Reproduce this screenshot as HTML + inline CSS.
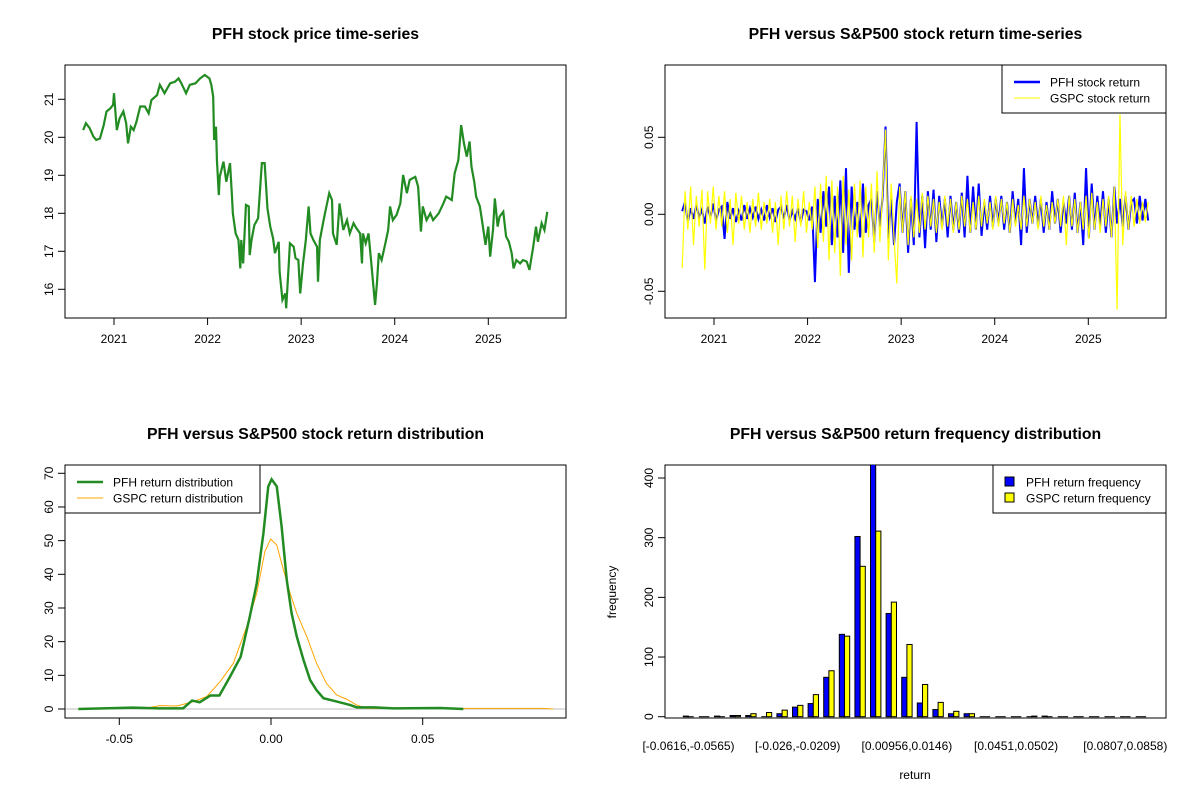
<!DOCTYPE html>
<html><head><meta charset="utf-8"><style>
body{margin:0;background:#fff;}
svg{display:block;font-family:"Liberation Sans",Arial,sans-serif;}
</style></head><body>
<svg id="c" width="1200" height="800" viewBox="0 0 1200 800">
<rect width="1200" height="800" fill="#fff"/>
</svg>
<script>
// ---- Panel 1: price series ----
const priceYears=[2020.67,2020.70,2020.74,2020.78,2020.81,2020.85,2020.89,2020.92,2020.96,2020.99,2021.00,2021.03,2021.06,2021.10,2021.13,2021.15,2021.18,2021.21,2021.24,2021.28,2021.33,2021.37,2021.40,2021.46,2021.49,2021.54,2021.60,2021.65,2021.69,2021.72,2021.77,2021.81,2021.87,2021.92,2021.97,2022.02,2022.04,2022.06,2022.07,2022.09,2022.10,2022.12,2022.13,2022.17,2022.20,2022.24,2022.26,2022.27,2022.30,2022.33,2022.35,2022.36,2022.38,2022.41,2022.44,2022.45,2022.47,2022.50,2022.54,2022.58,2022.61,2022.64,2022.67,2022.70,2022.72,2022.76,2022.77,2022.80,2022.83,2022.84,2022.87,2022.88,2022.92,2022.94,2022.97,2022.99,2023.02,2023.05,2023.08,2023.10,2023.13,2023.17,2023.18,2023.20,2023.24,2023.27,2023.30,2023.33,2023.34,2023.38,2023.41,2023.45,2023.49,2023.52,2023.56,2023.59,2023.63,2023.65,2023.66,2023.69,2023.72,2023.75,2023.79,2023.81,2023.83,2023.86,2023.90,2023.93,2023.95,2023.98,2024.02,2024.06,2024.09,2024.13,2024.16,2024.22,2024.25,2024.28,2024.30,2024.34,2024.38,2024.41,2024.47,2024.52,2024.55,2024.61,2024.64,2024.68,2024.71,2024.74,2024.77,2024.80,2024.82,2024.85,2024.87,2024.91,2024.94,2024.97,2025.00,2025.02,2025.05,2025.07,2025.10,2025.12,2025.16,2025.19,2025.22,2025.25,2025.27,2025.30,2025.34,2025.37,2025.41,2025.44,2025.48,2025.51,2025.53,2025.57,2025.60,2025.63];
const priceValues=[20.19,20.37,20.24,20.02,19.93,19.97,20.32,20.68,20.76,20.85,21.16,20.19,20.50,20.68,20.37,19.84,20.28,20.19,20.41,20.81,20.81,20.63,20.98,21.11,21.38,21.16,21.42,21.46,21.55,21.42,21.16,21.38,21.42,21.55,21.64,21.55,21.38,21.07,19.93,20.28,19.40,18.48,18.96,19.36,18.83,19.32,18.48,18.00,17.47,17.30,16.55,17.30,16.68,18.22,18.18,16.90,17.30,17.69,17.87,19.32,19.32,18.13,17.65,17.34,16.95,17.25,16.46,15.72,15.89,15.50,16.77,17.21,17.12,16.82,16.77,15.89,16.68,17.30,18.18,17.47,17.30,17.12,16.20,17.30,17.82,18.18,18.53,18.35,17.47,17.17,18.26,17.56,17.82,17.47,17.74,17.61,17.47,16.68,17.47,17.21,17.47,16.68,15.59,16.16,16.95,16.77,17.21,17.56,18.18,17.82,17.96,18.26,19.01,18.53,18.88,18.96,18.70,17.52,18.18,17.82,18.00,17.82,18.00,18.26,18.44,18.35,19.05,19.40,20.32,19.84,19.49,19.89,19.23,18.83,18.44,18.18,17.69,17.17,17.65,16.86,17.56,18.39,17.65,17.91,18.04,17.39,17.25,16.95,16.55,16.77,16.68,16.77,16.73,16.51,17.12,17.65,17.25,17.74,17.56,18.04];
const yearTicks=[2021,2022,2023,2024,2025];
const priceTicks=[16,17,18,19,20,21];
// ---- Panel 2: returns ----
const retStart=2020.66, retEnd=2025.64;
const pfhReturns=[0.002,0.008,-0.005,0.004,-0.003,0.006,-0.002,0.003,-0.006,0.005,-0.002,0.007,-0.004,0.003,0.005,-0.016,0.008,-0.003,0.004,-0.005,0.002,-0.004,0.006,-0.003,0.004,-0.002,0.005,-0.003,0.003,-0.004,0.006,-0.002,0.004,-0.005,0.003,0.005,-0.003,0.006,-0.004,0.002,-0.003,0.004,-0.005,0.003,0.002,-0.004,0.005,
-0.044,0.010,-0.012,0.015,-0.008,0.018,-0.020,0.012,-0.015,0.022,-0.025,0.030,-0.038,0.018,-0.010,0.008,-0.015,0.020,-0.012,0.006,0.010,-0.018,0.015,-0.008,0.012,0.057,-0.016,0.010,-0.020,0.008,0.020,-0.012,0.015,-0.025,0.010,-0.020,0.060,-0.015,0.012,-0.022,0.015,-0.010,0.016,-0.018,0.012,-0.008,0.010,-0.015,0.012,-0.010,0.008,-0.012,0.014,
-0.015,0.025,-0.012,0.018,-0.010,0.020,-0.014,0.008,-0.010,0.012,-0.008,0.010,-0.006,0.012,-0.010,0.008,-0.012,0.015,-0.006,0.010,-0.020,0.030,-0.012,0.010,-0.006,0.012,-0.008,0.010,-0.012,0.008,-0.010,0.015,-0.006,0.010,-0.012,0.008,-0.006,0.012,-0.010,0.014,-0.012,0.008,-0.020,0.030,-0.015,0.020,-0.010,0.012,-0.008,0.015,-0.012,0.010,-0.015,0.018,-0.006,0.010,-0.008,0.012,-0.010,0.008,0.010,-0.006,0.012,-0.004,0.010,-0.004];
const gspcReturns=[-0.035,0.015,-0.010,0.018,-0.020,0.012,-0.008,0.016,-0.036,0.015,-0.006,0.018,-0.010,0.012,-0.008,0.015,-0.012,0.010,-0.020,0.014,-0.006,0.012,-0.010,0.008,-0.012,0.010,-0.008,0.014,-0.010,0.008,-0.006,0.010,-0.012,0.008,-0.020,0.012,-0.010,0.015,-0.008,0.012,-0.018,0.010,-0.008,0.015,-0.012,0.008,-0.010,
0.018,-0.022,0.020,-0.018,0.025,-0.030,0.022,-0.025,0.018,-0.040,0.025,-0.020,0.016,-0.030,0.020,-0.015,0.022,-0.028,0.018,-0.015,0.020,-0.025,0.028,-0.018,0.015,0.055,-0.030,0.020,-0.015,-0.045,0.018,-0.012,0.015,-0.020,0.012,-0.015,0.010,-0.012,0.014,-0.010,0.012,-0.008,0.010,-0.012,0.008,-0.010,0.012,-0.008,0.010,-0.012,0.008,-0.010,0.012,
-0.008,0.010,-0.012,0.008,-0.010,0.012,-0.008,0.010,-0.006,0.008,-0.010,0.012,-0.008,0.010,-0.006,0.008,-0.012,0.010,-0.008,0.006,-0.010,0.012,-0.008,0.010,-0.006,0.008,-0.010,0.012,-0.008,0.006,-0.010,0.008,-0.006,0.010,-0.008,0.012,-0.020,0.012,-0.008,0.010,-0.012,0.008,-0.010,0.012,-0.016,0.014,-0.010,0.008,-0.012,0.010,-0.008,0.012,-0.015,0.018,-0.062,0.065,-0.020,0.015,-0.010,0.012,-0.008,0.010,-0.006,0.008,-0.005,0.008];
const retTicks=[-0.05,0,0.05];
const retTickLabels=["-0.05","0.00","0.05"];
// ---- Panel 3: densities ----
const pfhDensX=[-0.0635,-0.0454,-0.037,-0.029,-0.026,-0.0235,-0.020,-0.017,-0.0135,-0.010,-0.007,-0.0047,-0.0025,-0.0009,0.0002,0.0019,0.0035,0.0052,0.0068,0.0085,0.0107,0.0129,0.0150,0.0173,0.0217,0.026,0.0283,0.0338,0.0404,0.0557,0.0634];
const pfhDensY=[0,0.4,0.2,0.2,2.5,2.0,4.0,4.0,9.6,15.5,27.4,37.3,52.2,66.1,68.2,66.1,54.2,38.3,28.4,21.5,14.6,8.6,5.6,3.2,2.2,1.2,0.5,0.5,0.2,0.3,0];
const gspcDensX=[-0.0635,-0.0597,-0.052,-0.041,-0.0366,-0.031,-0.0256,-0.0212,-0.0168,-0.0124,-0.008,-0.0047,-0.002,-0.0001,0.0019,0.0041,0.0063,0.0085,0.0118,0.0150,0.0183,0.0216,0.0249,0.0282,0.0315,0.0513,0.0563,0.0898,0.093];
const gspcDensY=[0.2,0.2,0.2,0.3,1.0,0.9,2.2,3.7,8.1,13.6,24.5,34.4,46.8,50.5,48.7,41.3,34.4,28.4,21.5,13.6,7.6,4.2,2.9,1.2,0.2,0.2,0.2,0.2,0];
const densXTicks=[-0.05,0,0.05];
const densXLabels=["-0.05","0.00","0.05"];
const densYTicks=[0,10,20,30,40,50,60,70];
// ---- Panel 4: histogram ----
const binLabels=["[-0.0616,-0.0565)","","","","","","","[-0.026,-0.0209)","","","","","","","[0.00956,0.0146)","","","","","","","[0.0451,0.0502)","","","","","","","[0.0807,0.0858)",""];
const pfhFreq=[1,0,1,2,2,0,5,16,22,66,138,302,440,173,66,23,12,5,5,0,0,0,0,1,0,0,0,0,0,0];
const gspcFreq=[0,0,0,2,5,7,11,19,37,77,135,252,311,192,121,54,24,9,5,0,0,0,1,0,0,0,0,0,0,0];
const freqTicks=[0,100,200,300,400];

const svg=document.getElementById('c');
const NS='http://www.w3.org/2000/svg';
function mk(tag,attrs,parent){const e=document.createElementNS(NS,tag);for(const k in attrs)e.setAttribute(k,attrs[k]);(parent||svg).appendChild(e);return e;}
function txt(x,y,s,size,anchor,rot,weight,parent){const t=mk('text',{x:x,y:y,'font-size':size,'text-anchor':anchor||'middle',fill:'#000'},parent);if(weight)t.setAttribute('font-weight',weight);if(rot)t.setAttribute('transform','rotate(-90 '+x+' '+y+')');t.textContent=s;return t;}
function lin(d0,d1,r0,r1){return v=>r0+(v-d0)*(r1-r0)/(d1-d0);}

function panelFrame(x0,y0,x1,y1,name,title){
  const g=mk('g',{});
  
  
  const r=mk('rect',{x:x0,y:y0,width:x1-x0,height:y1-y0,fill:'none',stroke:'#000','stroke-width':1},g);
  
  
  const t=txt((x0+x1)/2,y0-26,title,15.8,'middle',false,'bold',g);
  
  
  return g;
}
function xAxis(g,vals,labels,sx,yb){
  const a=mk('g',{},g);
  
  
  vals.forEach((v,i)=>{const x=sx(v);mk('line',{x1:x,x2:x,y1:yb,y2:yb+7,stroke:'#000'},a);
    const t=txt(x,yb+25,labels[i],12,'middle',false,null,a);
    
    });
  mk('line',{x1:sx(vals[0]),x2:sx(vals[vals.length-1]),y1:yb,y2:yb,stroke:'#000'},a);
}
function yAxis(g,vals,labels,sy,xl){
  const a=mk('g',{},g);
  
  
  vals.forEach((v,i)=>{const y=sy(v);mk('line',{x1:xl-7,x2:xl,y1:y,y2:y,stroke:'#000'},a);
    const t=txt(xl-12,y,labels[i],12,'middle',true,null,a);
    
    });
  mk('line',{x1:xl,x2:xl,y1:sy(vals[0]),y2:sy(vals[vals.length-1]),stroke:'#000'},a);
}
function clip(id,x0,y0,x1,y1){const d=mk('clipPath',{id:id});mk('rect',{x:x0,y:y0,width:x1-x0,height:y1-y0},d);}

// Panel 1
{
 const g=panelFrame(65,65,566,318,'price-panel','PFH stock price time-series');
 const sx=lin(2021,2025,114,488.3), sy=lin(21,16,99.3,289.3);
 xAxis(g,yearTicks,yearTicks.map(String),sx,318);
 yAxis(g,priceTicks,priceTicks.map(String),sy,65);
 const p=mk('polyline',{points:priceYears.map((y,i)=>sx(y)+','+sy(priceValues[i])).join(' '),fill:'none',stroke:'#228B22','stroke-width':2.2},g);
 
 
}
// Panel 2
{
 const g=panelFrame(665,65,1166,318,'return-panel','PFH versus S&P500 stock return time-series');
 const sx=lin(2021,2025,714,1088.3), sy=lin(0,0.05,214.3,137.3);
 xAxis(g,yearTicks,yearTicks.map(String),sx,318);
 yAxis(g,retTicks,retTickLabels,sy,665);
 const n=pfhReturns.length;
 const yr=i=>retStart+i*(retEnd-retStart)/(n-1);
 const a=mk('polyline',{points:pfhReturns.map((v,i)=>sx(yr(i))+','+sy(v)).join(' '),fill:'none',stroke:'#0000FF','stroke-width':2},g);
 
 
 const m=gspcReturns.length;
 const yr2=i=>retStart+i*(retEnd-retStart)/(m-1);
 const b=mk('polyline',{points:gspcReturns.map((v,i)=>sx(yr2(i))+','+sy(v)).join(' '),fill:'none',stroke:'#FFFF00','stroke-width':1.2},g);
 
 
 const L=mk('g',{},g);
 
 
 mk('rect',{x:1002,y:65,width:164,height:48,fill:'#fff',stroke:'#000'},L);
 mk('line',{x1:1014,x2:1040,y1:82,y2:82,stroke:'#0000FF','stroke-width':2.5},L);
 mk('line',{x1:1014,x2:1040,y1:98,y2:98,stroke:'#FFFF00','stroke-width':1},L);
 const t1=txt(1050,86.5,'PFH stock return',12,'start',false,null,L);
 
 
 const t2=txt(1050,102.5,'GSPC stock return',12,'start',false,null,L);
 
 
}
// Panel 3
{
 const g=panelFrame(65,465,566,718,'density-panel','PFH versus S&P500 stock return distribution');
 const sx=lin(-0.05,0.05,119.3,422.7), sy=lin(0,70,709,473.3);
 xAxis(g,densXTicks,densXLabels,sx,718);
 yAxis(g,densYTicks,densYTicks.map(String),sy,65);
 mk('line',{x1:66,x2:565,y1:sy(0),y2:sy(0),stroke:'#bebebe'},g);
 const b=mk('polyline',{points:gspcDensX.map((v,i)=>sx(v)+','+sy(gspcDensY[i])).join(' '),fill:'none',stroke:'#FFA500','stroke-width':1},g);
 
 
 const a=mk('polyline',{points:pfhDensX.map((v,i)=>sx(v)+','+sy(pfhDensY[i])).join(' '),fill:'none',stroke:'#228B22','stroke-width':2.5},g);
 
 
 const L=mk('g',{},g);
 
 
 mk('rect',{x:65,y:465,width:195,height:48,fill:'#fff',stroke:'#000'},L);
 mk('line',{x1:77,x2:103,y1:482,y2:482,stroke:'#228B22','stroke-width':2.5},L);
 mk('line',{x1:77,x2:103,y1:498,y2:498,stroke:'#FFA500','stroke-width':1},L);
 const t1=txt(113,486.5,'PFH return distribution',12,'start',false,null,L);
 
 
 const t2=txt(113,502.5,'GSPC return distribution',12,'start',false,null,L);
 
 
}
// Panel 4
{
 const g=panelFrame(665,465,1166,718,'histogram-panel','PFH versus S&P500 return frequency distribution');
 clip('hc',665,465,1166,718);
 const bw=5.2, gx=i=>683.3+i*15.6;
 const sy=lin(0,400,716.7,478);
 yAxis(g,freqTicks,freqTicks.map(String),sy,665);
 const bars=mk('g',{'clip-path':'url(#hc)'},g);
 
 
 function bar(x,v,fill){
   if(v<=0){const l=mk('line',{x1:x,x2:x+bw,y1:sy(0),y2:sy(0),stroke:'#000','stroke-width':1},bars);return l;}
   return mk('rect',{x:x,y:sy(v),width:bw,height:sy(0)-sy(v),fill:fill,stroke:'#000','stroke-width':1},bars);
 }
 pfhFreq.forEach((v,i)=>{const r=bar(gx(i),v,'#0000FF');
   
   });
 gspcFreq.forEach((v,i)=>{const r=bar(gx(i)+bw,v,'#FFFF00');
   
   });
 binLabels.forEach((s,i)=>{if(!s)return;const t=txt(gx(i)+bw,750,s,12,'middle',false,null,g);
   
   });
 const xl=txt(915,779,'return',12,'middle',false,null,g);
 
 
 const yl=txt(616,592,'frequency',12,'middle',true,null,g);
 
 
 const L=mk('g',{},g);
 
 
 mk('rect',{x:993,y:465,width:173,height:48,fill:'#fff',stroke:'#000'},L);
 mk('rect',{x:1005,y:477,width:9,height:9,fill:'#0000FF',stroke:'#000'},L);
 mk('rect',{x:1005,y:493,width:9,height:9,fill:'#FFFF00',stroke:'#000'},L);
 const t1=txt(1026,486.5,'PFH return frequency',12,'start',false,null,L);
 
 
 const t2=txt(1026,502.5,'GSPC return frequency',12,'start',false,null,L);
 
 
}
</script>
</body></html>
